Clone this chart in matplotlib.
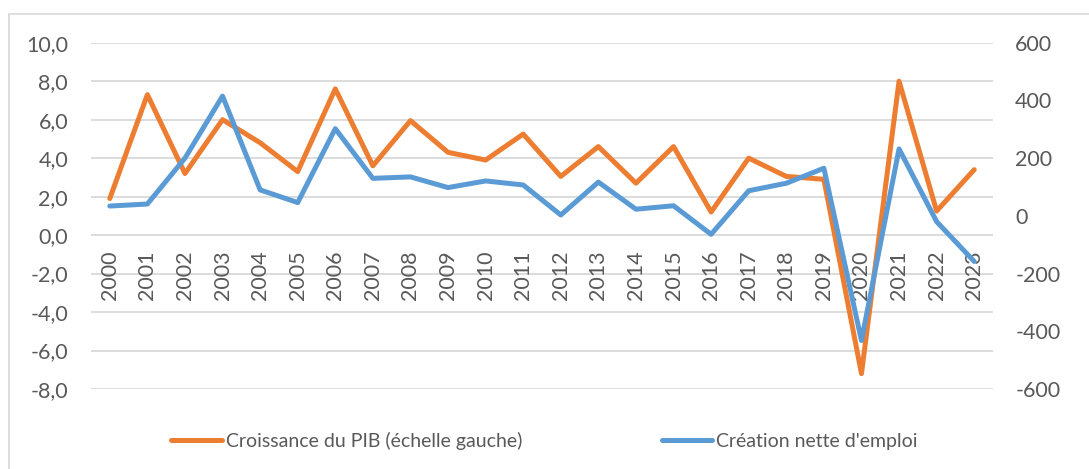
import matplotlib
matplotlib.use("Agg")
import matplotlib.pyplot as plt
from matplotlib.patches import Rectangle
from matplotlib.transforms import ScaledTranslation
from matplotlib.lines import Line2D

years = [str(y) for y in range(2000, 2024)]
pib_growth = [1.9, 7.3, 3.2, 6.0, 4.8, 3.3, 7.6, 3.6, 5.95, 4.3, 3.9, 5.25,
              3.05, 4.6, 2.7, 4.6, 1.2, 4.0, 3.05, 2.9, -7.2, 8.0, 1.25, 3.4]
job_creation = [34, 41, 200, 415, 90, 46, 302, 130, 135, 98, 121, 107,
                3, 117, 23, 35, -64, 87, 113, 165, -432, 232, -20, -158]
left_ticks = [-8, -6, -4, -2, 0, 2, 4, 6, 8, 10]
right_ticks = [-600, -400, -200, 0, 200, 400, 600]
label_pib = "Croissance du PIB (échelle gauche)"
label_job = "Création nette d'emploi"

ORANGE = "#ED7D31"
BLUE = "#5B9BD5"
GRID = "#D9D9D9"
TEXT = "#595959"
FS = 15.5
LFS = 14

plt.rcParams['font.family'] = ['Lato', 'DejaVu Sans']

fig = plt.figure(figsize=(10.89, 4.69), dpi=100)
ax = fig.add_axes([91/1089, 1-389/469, (993-91)/1089, (389-42.7)/469])
ax2 = ax.twinx()

x = list(range(len(years)))

ax.set_xlim(-0.5, len(years)-0.5)
ax.set_ylim(-8, 10)
ax.set_yticks(left_ticks)
ax.set_yticklabels([f"{v:.1f}".replace('.', ',') for v in left_ticks])
ax.yaxis.grid(True, color=GRID, linewidth=1.3)
ax.set_axisbelow(True)
ax.set_xticks([])
for s in ax.spines.values():
    s.set_visible(False)
for s in ax2.spines.values():
    s.set_visible(False)
ax.tick_params(axis='y', length=0, pad=16.5, labelsize=FS, labelcolor=TEXT)

ax2.set_ylim(-600, 600)
ax2.set_yticks(right_ticks)
ax2.set_yticklabels([str(v) for v in right_ticks])
ax2.tick_params(axis='y', length=0, pad=16, labelsize=FS, labelcolor=TEXT)

off = ScaledTranslation(0, -0.15, fig.dpi_scale_trans)
for i, yr in zip(x, years):
    ax.text(i, 0, yr, rotation=90, ha='center', va='top', fontsize=FS,
            color=TEXT, transform=ax.transData + off, zorder=1)

ax.plot(x, pib_growth, color=ORANGE, lw=3.6, solid_capstyle='round',
        solid_joinstyle='round', zorder=3)
ax2.plot(x, job_creation, color=BLUE, lw=3.6, solid_capstyle='round',
         solid_joinstyle='round', zorder=3)

handles = [Line2D([], [], color=ORANGE, lw=3.6, solid_capstyle='round'),
           Line2D([], [], color=BLUE, lw=3.6, solid_capstyle='round')]
leg = fig.legend(handles, [label_pib, label_job], loc='center',
                 bbox_to_anchor=(0.5, 1-441/469), ncol=2, frameon=False,
                 fontsize=LFS, handlelength=2.6, handletextpad=0.2,
                 columnspacing=7.2)
for t in leg.get_texts():
    t.set_color(TEXT)

fig.patches.append(Rectangle((8.5/1089, -0.1), 1.2, 1.1 - 14/469,
                             transform=fig.transFigure, fill=False,
                             edgecolor=GRID, linewidth=1.2))

fig.savefig("out.png", dpi=100)
